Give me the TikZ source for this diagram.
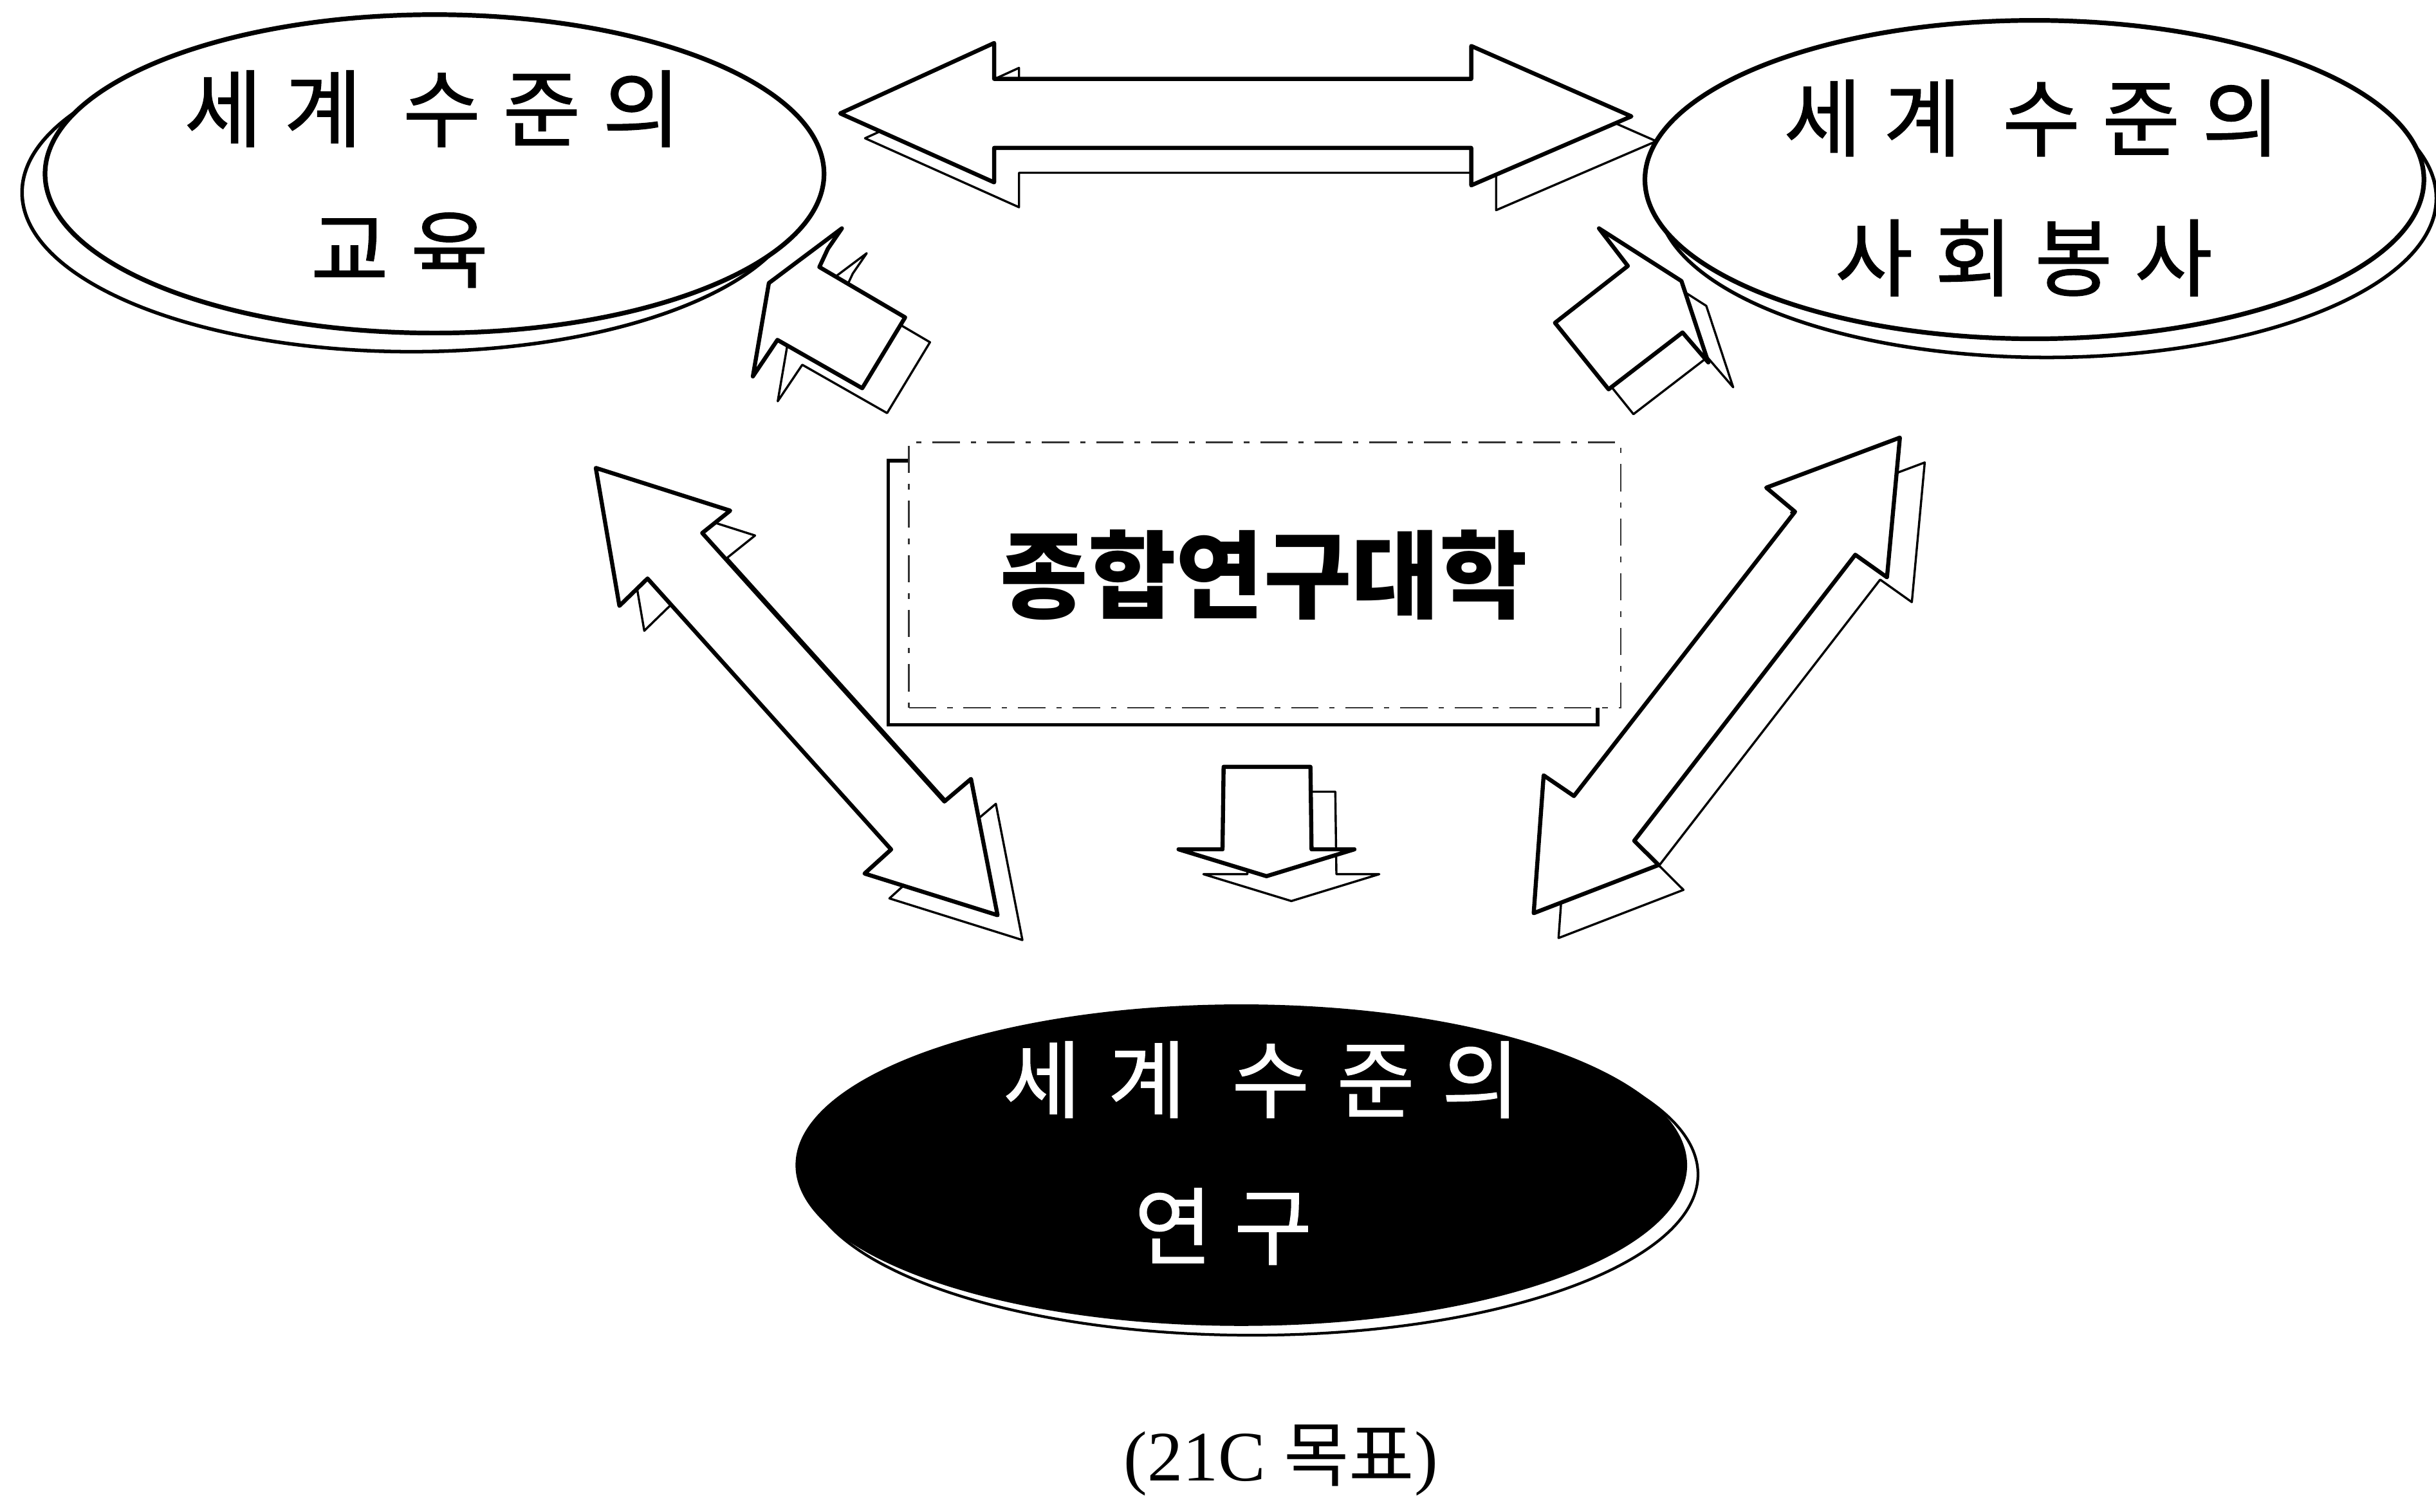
\documentclass[tikz,border=0pt]{standalone}
\usepackage{fontspec}
\setmainfont{Liberation Serif}
\newfontfamily\kr{Noto Sans CJK KR}
\newfontfamily\krls{Noto Sans CJK KR}[LetterSpace=26, FakeBold=1]
\newfontfamily\krlsw{Noto Sans CJK KR}[LetterSpace=32, FakeBold=1]
\newfontfamily\krb{Noto Sans CJK KR}
\usetikzlibrary{shapes.geometric}
\begin{document}
\def\pathTopArr{(540.8,73) -- (639.9,27.7) -- (639.9,50.8) -- (947,50.8) -- (947,29.6) -- (1050.1,74.9) -- (947,119.3) -- (947,95.2) -- (639.9,95.2) -- (639.9,117.4) -- cycle}
\def\pathLeftDbl{(383.5,301.2) -- (470,328.7) -- (452,343.1) -- (607.9,515.9) -- (625,501.4) -- (642.1,589.1) -- (556.5,562.3) -- (573.6,546.8) -- (416.8,372.4) -- (398.7,390) -- cycle}
\def\pathRightDbl{(1222.9,281.7) -- (1136.9,313.9) -- (1155.4,329.4) -- (1013.1,512.4) -- (993.6,499.1) -- (987.2,587.8) -- (1067.6,556.8) -- (1051.9,541.2) -- (1194.2,357.1) -- (1214.6,371.6) -- cycle}
\def\pathSmallL{(541.9,147) -- (494.9,182.2) -- (484.6,242.3) -- (500.4,218.8) -- (555,249.9) -- (582.6,204.3) -- (527.4,171.9) -- (532.9,160.1) -- cycle}
\def\pathSmallR{(1029.2,147) -- (1047.8,171.2) -- (1000.9,207.8) -- (1035.4,250.6) -- (1083,214) -- (1099.6,233.3) -- (1082.3,180.9) -- cycle}
\def\pathDown{(787.6,493.6) -- (843.5,493.6) -- (844.2,546.7) -- (871.8,546.7) -- (815.2,564) -- (758.6,546.7) -- (786.9,546.7) -- cycle}
\begin{tikzpicture}[x=0.02cm,y=-0.02cm,
  mainarrow/.style={draw=black, fill=white, line width=1.5pt, line join=round},
  shadowarrow/.style={draw=black, fill=white, line width=0.8pt, line join=round, shift={(16,16)}},
  bubble/.style={ellipse, draw=black, fill=white, line width=1.7pt, inner sep=0pt, minimum width=10.03cm, minimum height=4.1cm},
  bubbleshadow/.style={bubble, line width=1.3pt},
  txt/.style={inner sep=0pt, anchor=west, font=\krls\fontsize{31pt}{32pt}\selectfont},
]
\useasboundingbox[fill=white] (0,0) rectangle (1568,973);
% shadows
\node[bubbleshadow] (eduS) at (264.9,123.9) {};
\node[bubbleshadow] (srvS) at (1317.5,127.6) {};
\node[ellipse, draw=black, fill=white, line width=1pt, inner sep=0pt, minimum width=11.48cm, minimum height=4.14cm] (resS) at (806,756) {};
\node[draw=black, fill=white, line width=1.3pt, inner sep=0pt, minimum width=9.134cm, minimum height=3.4cm] (boxS) at (800.05,381.5) {};
\draw[shadowarrow] \pathTopArr;
\draw[shadowarrow] \pathLeftDbl;
\draw[shadowarrow] \pathRightDbl;
\draw[shadowarrow] \pathSmallL;
\draw[shadowarrow] \pathSmallR;
\draw[shadowarrow] \pathDown;
% main shapes
\draw[mainarrow] \pathTopArr;
\draw[mainarrow] \pathLeftDbl;
\draw[mainarrow] \pathRightDbl;
\draw[mainarrow] \pathSmallL;
\draw[mainarrow] \pathSmallR;
\draw[mainarrow] \pathDown;
\node[bubble] (edu) at (279.7,111.9) {};
\node[bubble] (srv) at (1309.5,115.6) {};
\node[ellipse, fill=black, inner sep=0pt, minimum width=11.48cm, minimum height=4.14cm] (res) at (799,750) {};
\node[draw=black!80, fill=white, line width=0.6pt, dash pattern=on 10pt off 4pt on 2pt off 4pt, inner sep=0pt, minimum width=9.164cm, minimum height=3.416cm] (box) at (814.1,370.1) {};
% texts
\node[txt] (e1) at (118.3,70) {세계 수준의};
\node[txt] (e2) at (199.7,161) {교육};
\node[txt] (s1) at (1147.8,76) {세계 수준의};
\node[txt] (s2) at (1180.8,166) {사회봉사};
\node[txt, font=\krlsw\fontsize{31pt}{32pt}\selectfont, text=white] (r1) at (645.3,695) {세계 수준의};
\node[txt, text=white] (r2) at (729.8,789.5) {연구};
\node[inner sep=0pt, font=\krb\bfseries\fontsize{35pt}{36pt}\selectfont] (boxtxt) at (813.5,370) {종합연구대학};
\node[inner sep=0pt, font=\fontsize{26pt}{28pt}\selectfont] (cap) at (824.5,940) {(21C {\kr 목표})};
\end{tikzpicture}
\end{document}
